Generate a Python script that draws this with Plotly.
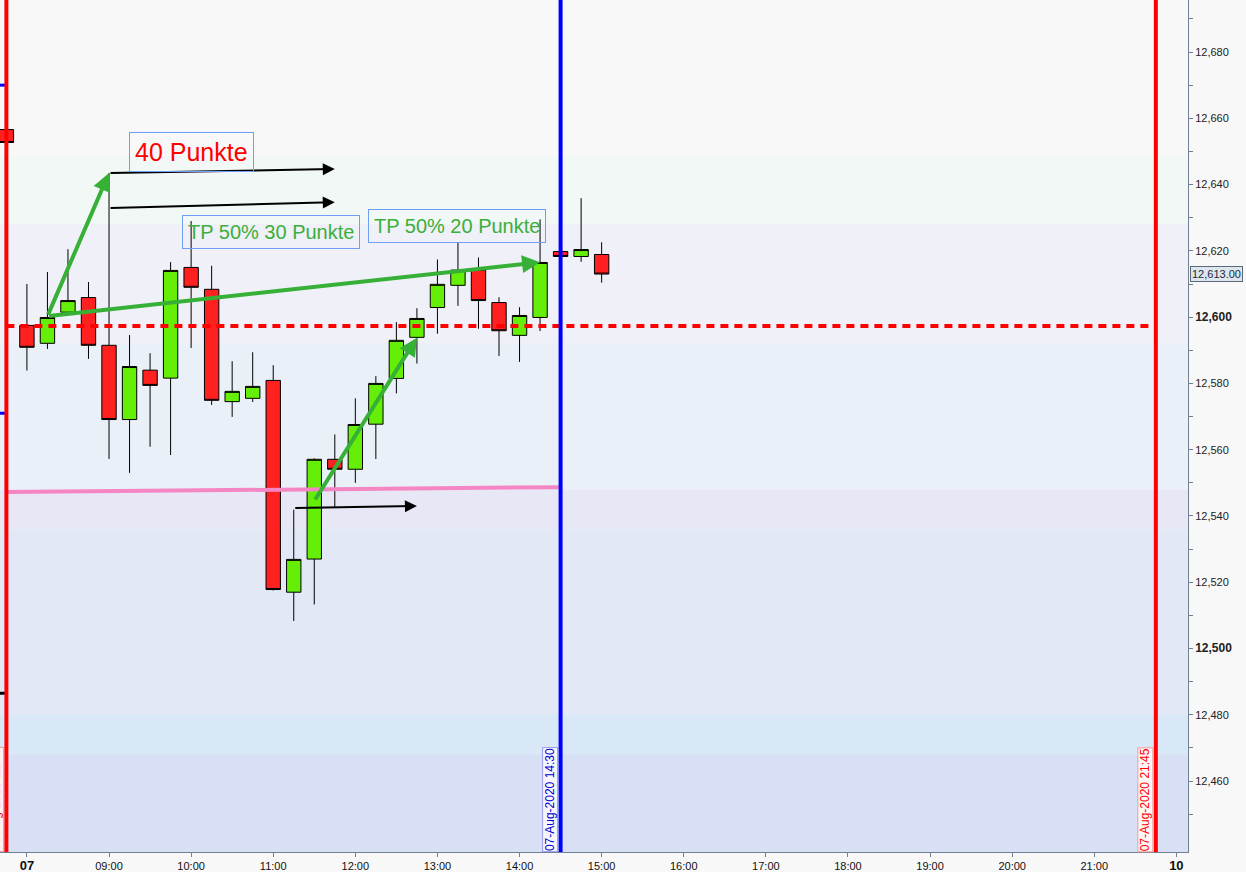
import plotly.graph_objects as go

DAY = "2020-08-07 "

# 15-minute candles (07:45 slot shows the last bar of 06-Aug 21:45)
times = ["07:45", "08:00", "08:15", "08:30", "08:45", "09:00", "09:15", "09:30", "09:45",
         "10:00", "10:15", "10:30", "10:45", "11:00", "11:15", "11:30", "11:45",
         "12:00", "12:15", "12:30", "12:45", "13:00", "13:15", "13:30", "13:45",
         "14:00", "14:15", "14:30", "14:45", "15:00"]
opens = [12656.6, 12597.5, 12592.1, 12601.5, 12605.9, 12591.5, 12569.1, 12584.0, 12581.6,
         12615.0, 12608.4, 12574.5, 12575.5, 12580.9, 12517.0, 12527.0, 12557.1,
         12554.1, 12567.7, 12581.5, 12593.9, 12602.9, 12609.6, 12614.2, 12604.4,
         12594.5, 12599.9, 12619.8, 12618.3, 12618.9]
highs = [12656.6, 12610.0, 12613.6, 12620.5, 12610.6, 12643.5, 12594.6, 12589.1, 12616.6,
         12629.0, 12615.5, 12586.7, 12589.4, 12585.5, 12541.9, 12557.4, 12564.6,
         12575.5, 12582.2, 12598.5, 12602.7, 12617.4, 12622.6, 12618.0, 12606.0,
         12603.0, 12629.5, 12619.8, 12635.9, 12622.6]
lows = [12652.7, 12583.9, 12590.4, 12601.5, 12587.4, 12557.2, 12553.0, 12560.9, 12558.4,
        12590.7, 12573.5, 12569.9, 12574.4, 12517.5, 12508.3, 12513.3, 12542.5,
        12550.0, 12557.2, 12577.0, 12586.0, 12595.0, 12603.4, 12596.5, 12588.3,
        12586.5, 12595.8, 12618.3, 12616.7, 12610.4]
closes = [12652.7, 12590.9, 12599.9, 12605.0, 12591.5, 12569.1, 12585.1, 12579.4, 12614.1,
          12609.0, 12574.9, 12577.6, 12579.1, 12517.8, 12526.9, 12557.1, 12554.1,
          12567.6, 12580.0, 12593.0, 12599.6, 12609.9, 12614.2, 12605.0, 12595.9,
          12600.5, 12616.5, 12618.3, 12620.4, 12613.0]

# price axis
y_ticks = [12460, 12480, 12500, 12520, 12540, 12560, 12580, 12600, 12620, 12640, 12660, 12680]
y_minor = [12450, 12470, 12490, 12510, 12530, 12550, 12570, 12590, 12610, 12630, 12650, 12670, 12690]
y_bold = [12500, 12600]
last_price = 12613.00

# time axis
x_tick_times = ["08:00", "09:00", "10:00", "11:00", "12:00", "13:00", "14:00", "15:00",
                "16:00", "17:00", "18:00", "19:00", "20:00", "21:00", "22:00"]
x_tick_text = ["07", "09:00", "10:00", "11:00", "12:00", "13:00", "14:00", "15:00",
               "16:00", "17:00", "18:00", "19:00", "20:00", "21:00", "10"]
x_bold = ["07", "10"]

# background price bands (price bounds, colour)
band_bounds = [12695.7, 12648.6, 12628.1, 12592.2, 12548.1, 12536.3, 12480.2, 12468.1, 12438.6]
band_colors = ["#f8f8f8", "#f1f8f6", "#f0f0f8", "#eaf0f8", "#e8e7f6", "#e2e8f6", "#d9e8f6", "#d8e0f6"]

# drawn objects
session_start = "07:45"
session_end = "21:45"
session_start_label = "06-Aug-2020 21:45"
session_end_label = "07-Aug-2020 21:45"
marker_time = "14:30"
marker_label = "07-Aug-2020 14:30"
red_level = 12597.3
pink_line = (("07:45", 12547.2), ("14:30", 12548.7))
left_stubs = [(12670.0, "#0000ff"), (12571.0, "#0000ff"), (12486.5, "#000000")]

green_arrows = [  # (tail time, tail price, head time, head price)
    ("08:15", 12600.3, "09:00", 12643.5),
    ("08:15", 12600.3, "14:15", 12616.6),
    ("11:30", 12544.5, "12:45", 12593.8),
]
black_arrows = [
    ("09:00", 12643.5, "11:45", 12644.7),
    ("09:00", 12632.9, "11:45", 12634.7),
    ("11:15", 12542.4, "12:45", 12543.0),
]
text_boxes = [  # (text, time, price, colour, size)
    ("40 Punkte", "10:00", 12649.8, "#ff0000", 25),
    ("TP 50% 30 Punkte", "10:58:30", 12625.7, "#3aaf3a", 20),
    ("TP 50% 20 Punkte", "13:14:36", 12627.5, "#3aaf3a", 20),
]

FONT = "Liberation Sans, Arial, sans-serif"
AXIS = "#708090"

fig = go.Figure()
fig.add_trace(go.Candlestick(
    x=[DAY + t for t in times], open=opens, high=highs, low=lows, close=closes,
    increasing=dict(line=dict(color="black", width=1), fillcolor="#64ee08"),
    decreasing=dict(line=dict(color="black", width=1), fillcolor="#ff2020"),
    whiskerwidth=0, showlegend=False, hoverinfo="skip",
))

shapes = []
for i, c in enumerate(band_colors):
    shapes.append(dict(type="rect", xref="paper", yref="y", x0=0, x1=1,
                       y0=band_bounds[i + 1], y1=band_bounds[i], fillcolor=c,
                       line=dict(width=0), layer="below"))
shapes.append(dict(type="line", xref="x", yref="y", x0=DAY + session_start, x1=DAY + session_end,
                   y0=red_level, y1=red_level, line=dict(color="#ff0000", width=4, dash="8px,6px"),
                   layer="above"))
shapes.append(dict(type="line", xref="x", yref="y", x0=DAY + pink_line[0][0], x1=DAY + pink_line[1][0],
                   y0=pink_line[0][1], y1=pink_line[1][1], line=dict(color="#f586c4", width=4),
                   layer="above"))
for price, col in left_stubs:
    shapes.append(dict(type="line", xref="paper", yref="y", x0=0, x1=0.006, y0=price, y1=price,
                       line=dict(color=col, width=3), layer="above"))
shapes.append(dict(type="line", xref="x", yref="paper", x0=DAY + marker_time, x1=DAY + marker_time,
                   y0=0, y1=1, line=dict(color="#0000ff", width=4), layer="above"))
for t in (session_start, session_end):
    shapes.append(dict(type="line", xref="x", yref="paper", x0=DAY + t, x1=DAY + t,
                       y0=0, y1=1, line=dict(color="#ff0000", width=4), layer="above"))

annotations = []
for t0, p0, t1, p1 in green_arrows:
    annotations.append(dict(x=DAY + t1, y=p1, ax=DAY + t0, ay=p0, xref="x", yref="y",
                            axref="x", ayref="y", showarrow=True, arrowhead=2, arrowsize=0.9,
                            arrowwidth=4, arrowcolor="#36b036", standoff=0, text=""))
for t0, p0, t1, p1 in black_arrows:
    annotations.append(dict(x=DAY + t1, y=p1, ax=DAY + t0, ay=p0, xref="x", yref="y",
                            axref="x", ayref="y", showarrow=True, arrowhead=2, arrowsize=1.2,
                            arrowwidth=2, arrowcolor="#000000", standoff=0, text=""))
for txt, t, p, col, sz in text_boxes:
    annotations.append(dict(x=DAY + t, y=p, xref="x", yref="y", text=txt, showarrow=False,
                            font=dict(family=FONT, size=sz, color=col), bordercolor="#6e9ef5",
                            borderwidth=1, borderpad=5, xanchor="center", yanchor="middle"))

for t, lbl, col, bg, bc in [(marker_time, marker_label, "#0000cc", "#f6f6ff", "#9a9af0"),
                            (session_end, session_end_label, "#ff0000", "#fff6f6", "#f09a9a"),
                            (session_start, session_start_label, "#ff0000", "#fff6f6", "#f09a9a")]:
    annotations.append(dict(x=DAY + t, y=0, xref="x", yref="paper", text=lbl,
                            textangle=-90, showarrow=False, xanchor="right", yanchor="bottom",
                            xshift=-3, font=dict(family=FONT, size=12, color=col), bgcolor=bg,
                            bordercolor=bc, borderwidth=1, borderpad=0))
annotations.append(dict(x=1, y=last_price, xref="paper", yref="y", text=f"{last_price:,.2f}",
                        showarrow=False, xanchor="left", yanchor="middle", xshift=2,
                        font=dict(family=FONT, size=11, color="#1a2a3a"), bgcolor="#dde6ef",
                        bordercolor="#5a6a7a", borderwidth=1, borderpad=1))

y_text = [f"<span style='font-size:12px'><b>{v:,}</b></span>" if v in y_bold else f"{v:,}"
          for v in y_ticks]
x_text = [f"<span style='font-size:13px'><b>{s}</b></span>" if s in x_bold else s
          for s in x_tick_text]

fig.update_layout(
    width=1246, height=872,
    margin=dict(l=0, r=58, t=0, b=20, autoexpand=False),
    paper_bgcolor="#f8f8f8", plot_bgcolor="#f8f8f8",
    font=dict(family=FONT, size=11, color="#222222"),
    boxgap=0.3, boxgroupgap=0,
    shapes=shapes, annotations=annotations, showlegend=False,
    xaxis=dict(type="date", range=[DAY + "07:40:20", DAY + "22:08:30"],
               tickvals=[DAY + t for t in x_tick_times], ticktext=x_text,
               showgrid=False, zeroline=False, showline=True, linecolor=AXIS, linewidth=1,
               ticks="outside", ticklen=4, tickcolor=AXIS, tickfont=dict(size=11, color="#111111"),
               rangeslider=dict(visible=False), fixedrange=True, automargin=False),
    yaxis=dict(side="right", range=[12438.6, 12695.7], tickvals=y_ticks, ticktext=y_text,
               showgrid=False, zeroline=False, showline=True, linecolor=AXIS, linewidth=1,
               ticks="outside", ticklen=4, tickcolor=AXIS, tickfont=dict(size=11, color="#222222"),
               minor=dict(tickmode="array", tickvals=y_minor, ticks="outside", ticklen=4,
                          tickcolor=AXIS, showgrid=False),
               fixedrange=True, automargin=False),
)

fig.write_html("out.html", config={"displayModeBar": False},
               post_script="document.body.style.margin='0';document.body.style.overflow='hidden';")
